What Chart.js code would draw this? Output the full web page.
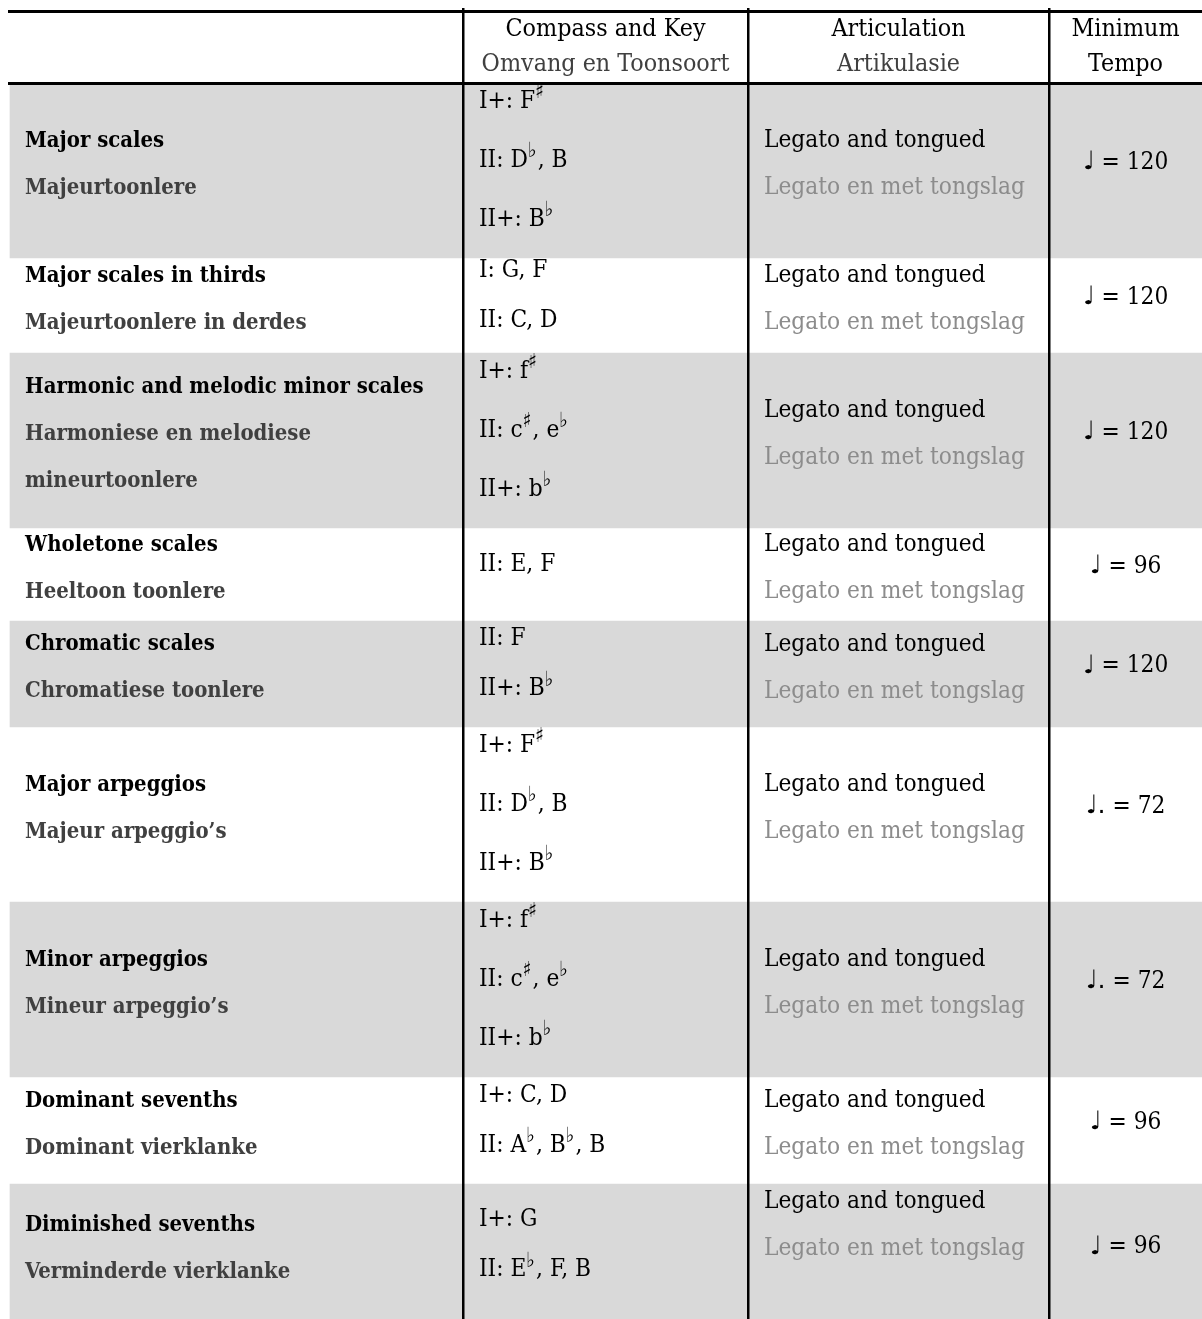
<!DOCTYPE html>
<html>
<head>
<meta charset="utf-8">
<script src="https://cdn.jsdelivr.net/npm/chart.js@4.4.1/dist/chart.umd.min.js"></script>
<style>
  html, body { margin: 0; padding: 0; background: #fff; }
  #wrap { width: 1202px; height: 1319px; }
</style>
</head>
<body>
<div id="wrap"><canvas id="table" width="1202" height="1319"></canvas></div>
<script>
// table content
const headerTop = ["", "Compass and Key", "Articulation", "Minimum"];
const headerSub = ["", "Omvang en Toonsoort", "Artikulasie", "Tempo"];

const categoriesEn = [
    "Major scales",
    "Major scales in thirds",
    "Harmonic and melodic minor scales",
    "Wholetone scales",
    "Chromatic scales",
    "Major arpeggios",
    "Minor arpeggios",
    "Dominant sevenths",
    "Diminished sevenths"
];
const categoriesAf = [
    ["Majeurtoonlere"],
    ["Majeurtoonlere in derdes"],
    ["Harmoniese en melodiese", "mineurtoonlere"],
    ["Heeltoon toonlere"],
    ["Chromatiese toonlere"],
    ["Majeur arpeggio\u2019s"],
    ["Mineur arpeggio\u2019s"],
    ["Dominant vierklanke"],
    ["Verminderde vierklanke"]
];
// "^x" = superscript accidental
const compass = [
    ["I+: F^\u266F", "II: D^\u266D, B", "II+: B^\u266D"],
    ["I: G, F", "II: C, D"],
    ["I+: f^\u266F", "II: c^\u266F, e^\u266D", "II+: b^\u266D"],
    ["II: E, F"],
    ["II: F", "II+: B^\u266D"],
    ["I+: F^\u266F", "II: D^\u266D, B", "II+: B^\u266D"],
    ["I+: f^\u266F", "II: c^\u266F, e^\u266D", "II+: b^\u266D"],
    ["I+: C, D", "II: A^\u266D, B^\u266D, B"],
    ["I+: G", "II: E^\u266D, F, B"]
];
const articulationEn = Array(9).fill("Legato and tongued");
const articulationAf = Array(9).fill("Legato en met tongslag");
const tempoNotes = ["\u2669", "\u2669", "\u2669", "\u2669", "\u2669", "\u2669.", "\u2669.", "\u2669", "\u2669"];
const tempoBpm = [120, 120, 120, 96, 120, 72, 72, 96, 96];
const shadedRows = [0, 2, 4, 6, 8];

// layout (table units = px)
const rowEdges = [83, 258, 353, 528, 621, 727, 902, 1077, 1184, 1326];
const colEdges = [463, 748, 1049];
const headerLines = [11, 83];
const tableLeft = 10, tableRight = 1202;

const F = '"DejaVu Serif Condensed", "DejaVu Serif", serif';
const NOTE_F = '"DejaVu Sans", sans-serif';

function fitSize(ctx, text, weight, target) {
    ctx.font = weight + " 20px " + F;
    return 20 * target / ctx.measureText(text).width;
}

function drawRich(ctx, text, x, y, size, weight) {
    const parts = text.split(/\^(.)/);
    let cx = x;
    parts.forEach((p, i) => {
        if (!p) return;
        const sup = i % 2 === 1;
        ctx.font = weight + " " + (sup ? size * 0.85 : size) + "px " + F;
        ctx.fillText(p, cx, sup ? y - size * 0.35 : y);
        cx += ctx.measureText(p).width + (sup ? 1 : 0);
    });
}

const tableText = {
    id: "tableText",
    afterDraw(chart) {
        const ctx = chart.ctx;
        const xs = chart.scales.x, ys = chart.scales.y;
        const boldSize = fitSize(ctx, "Harmonic and melodic minor scales", "bold", 399);
        const regSize = fitSize(ctx, "Legato en met tongslag", "normal", 261);
        const headSize = fitSize(ctx, "Omvang en Toonsoort", "normal", 248);
        const colX = [xs.getPixelForValue(tableLeft) + 15].concat(colEdges.map(v => xs.getPixelForValue(v) + 16));
        const colMid = [0, (colEdges[0] + colEdges[1]) / 2, (colEdges[1] + colEdges[2]) / 2, (colEdges[2] + tableRight) / 2].map(v => xs.getPixelForValue(v));

        ctx.save();
        ctx.textBaseline = "middle";

        // header
        const hTop = ys.getPixelForValue(headerLines[0]), hBot = ys.getPixelForValue(headerLines[1]);
        const hMid = (hTop + hBot) / 2;
        ctx.textAlign = "center";
        for (let c = 1; c < 4; c++) {
            ctx.font = "normal " + headSize + "px " + F;
            ctx.fillStyle = "#000";
            ctx.fillText(headerTop[c], colMid[c], hMid - 17);
            ctx.fillStyle = c === 3 ? "#000" : "#404040";
            ctx.fillText(headerSub[c], colMid[c], hMid + 18);
        }

        categoriesEn.forEach((cat, r) => {
            const top = ys.getPixelForValue(rowEdges[r]);
            const bot = ys.getPixelForValue(rowEdges[r + 1]);
            const mid = (top + bot) / 2;

            // category
            ctx.textAlign = "left";
            const lines = [cat].concat(categoriesAf[r]);
            const step = 47;
            let y0 = mid - 6 - step * (lines.length - 1) / 2;
            lines.forEach((t, i) => {
                ctx.font = "bold " + boldSize + "px " + F;
                ctx.fillStyle = i === 0 ? "#000" : "#404040";
                ctx.fillText(t, colX[0], y0 + i * step);
            });

            // compass and key
            const keys = compass[r];
            const kStep = keys.length === 3 ? 59 : 50;
            y0 = mid - 10 - kStep * (keys.length - 1) / 2;
            ctx.fillStyle = "#000";
            keys.forEach((k, i) => drawRich(ctx, k, colX[1], y0 + i * kStep, regSize, "normal"));

            // articulation
            ctx.font = "normal " + regSize + "px " + F;
            const aY = r === 8 ? top + 18 : mid - 6 - 23.5;
            ctx.fillStyle = "#000";
            ctx.fillText(articulationEn[r], colX[2], aY);
            ctx.fillStyle = "#8c8c8c";
            ctx.fillText(articulationAf[r], colX[2], aY + 47);

            // tempo
            ctx.fillStyle = "#000";
            const tY = mid - 8;
            const note = tempoNotes[r];
            const rest = " = " + tempoBpm[r];
            ctx.font = "normal " + (regSize * 1.05) + "px " + NOTE_F;
            const nw = ctx.measureText(note).width;
            ctx.font = "normal " + regSize + "px " + F;
            const rw = ctx.measureText(rest).width;
            const start = colMid[3] - (nw + rw) / 2;
            ctx.textAlign = "left";
            ctx.font = "normal " + (regSize * 1.05) + "px " + NOTE_F;
            ctx.fillText(note, start, tY);
            ctx.font = "normal " + regSize + "px " + F;
            ctx.fillText(rest, start + nw, tY);
        });
        ctx.restore();
    }
};

const ctx = document.getElementById("table");
const tableChart = new Chart(ctx, {
    type: "bar",
    data: {
        datasets: [{
            data: shadedRows.map(r => ({ x: (tableLeft + tableRight) / 2, y: [rowEdges[r], rowEdges[r + 1]] })),
            backgroundColor: "#d9d9d9",
            borderWidth: 0,
            barThickness: tableRight - tableLeft,
            grouped: false
        }]
    },
    plugins: [tableText],
    options: {
        responsive: false,
        animation: false,
        events: [],
        layout: { padding: { left: 8, top: 8 } },
        plugins: { legend: { display: false }, tooltip: { enabled: false } },
        scales: {
            x: {
                type: "linear",
                min: 8,
                max: 1202,
                offset: false,
                afterBuildTicks: axis => { axis.ticks = colEdges.map(v => ({ value: v })); },
                grid: { color: "#000", lineWidth: 2.5, drawTicks: false, offset: false, z: 1 },
                ticks: { display: false },
                border: { display: false }
            },
            y: {
                type: "linear",
                min: 8,
                max: 1319,
                reverse: true,
                offset: false,
                afterBuildTicks: axis => { axis.ticks = headerLines.map(v => ({ value: v })); },
                grid: { color: "#000", lineWidth: 3, drawTicks: false, offset: false, z: 1 },
                ticks: { display: false },
                border: { display: false }
            }
        }
    }
});
</script>
</body>
</html>
